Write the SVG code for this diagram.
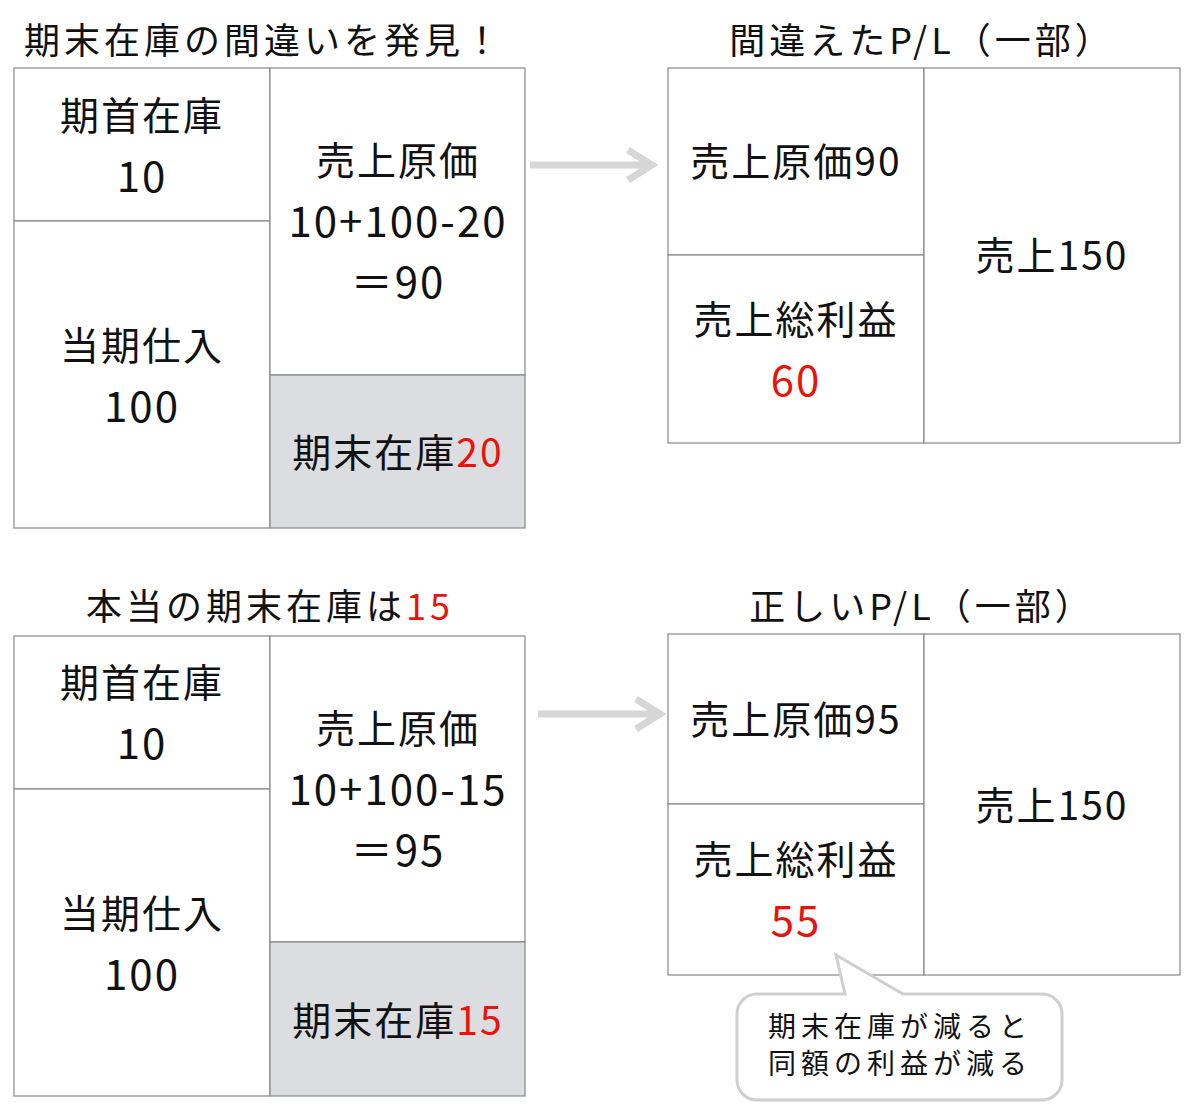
<svg xmlns="http://www.w3.org/2000/svg" width="1200" height="1114" viewBox="0 0 1200 1114">
<style>
text{font-family:"Noto Sans CJK JP","Noto Sans",sans-serif;fill:#111;text-anchor:middle}
.b{fill:#fff;stroke:#888;stroke-width:1.2}
.g{fill:#dcdde0;stroke:#888;stroke-width:1.2}
.t{font-size:39px;letter-spacing:2px}
.n{font-size:42px;letter-spacing:2px}
.h{font-size:36px;letter-spacing:4px}
.r{fill:#e8140c}
.ar{fill:none;stroke:#d6d6d6;stroke-width:7}
</style>
<rect width="1200" height="1114" fill="#fff"/>
<g id="title1"><text class="h" x="264" y="54">期末在庫の間違いを発見！</text></g>
<g id="title2"><text class="h" x="922" y="54">間違えたP/L（一部）</text></g>
<g id="title3"><text class="h" x="270" y="620">本当の期末在庫は<tspan class="r">15</tspan></text></g>
<g id="title4"><text class="h" x="922" y="620">正しいP/L（一部）</text></g>

<g id="box1">
<rect class="b" x="14" y="68" width="256" height="153"/>
<rect class="b" x="14" y="221" width="256" height="307"/>
<rect class="b" x="270" y="68" width="255" height="307"/>
<rect class="g" x="270" y="375" width="255" height="153"/>
<text class="t" x="142" y="130">期首在庫</text><text class="n" x="142" y="192">10</text>
<text class="t" x="142" y="360">当期仕入</text><text class="n" x="142" y="422">100</text>
<text class="t" x="398" y="175">売上原価</text><text class="n" x="398" y="237">10+100-20</text><text class="n" x="398" y="298">＝90</text>
<text class="t" x="398" y="467">期末在庫<tspan class="r">20</tspan></text>
</g>
<g id="pl1">
<rect class="b" x="668" y="68" width="256" height="187"/>
<rect class="b" x="668" y="255" width="256" height="188"/>
<rect class="b" x="924" y="68" width="256" height="375"/>
<text class="t" x="796" y="176">売上原価90</text>
<text class="t" x="796" y="334">売上総利益</text><text class="n r" x="796" y="396">60</text>
<text class="t" x="1052" y="270">売上150</text>
</g>
<g id="box2">
<rect class="b" x="14" y="636" width="256" height="153"/>
<rect class="b" x="14" y="789" width="256" height="307"/>
<rect class="b" x="270" y="636" width="255" height="306"/>
<rect class="g" x="270" y="942" width="255" height="154"/>
<text class="t" x="142" y="697">期首在庫</text><text class="n" x="142" y="759">10</text>
<text class="t" x="142" y="928">当期仕入</text><text class="n" x="142" y="990">100</text>
<text class="t" x="398" y="743">売上原価</text><text class="n" x="398" y="805">10+100-15</text><text class="n" x="398" y="866">＝95</text>
<text class="t" x="398" y="1035">期末在庫<tspan class="r">15</tspan></text>
</g>
<g id="pl2">
<rect class="b" x="668" y="634" width="256" height="170"/>
<rect class="b" x="668" y="804" width="256" height="171"/>
<rect class="b" x="924" y="634" width="256" height="341"/>
<text class="t" x="796" y="734">売上原価95</text>
<text class="t" x="796" y="874">売上総利益</text><text class="n r" x="796" y="936">55</text>
<text class="t" x="1052" y="820">売上150</text>
</g>
<g id="connectors">
<path class="ar" d="M530 165H652M628 150L652 165L628 180"/>
<path class="ar" d="M538 714H660M636 699L660 714L636 729"/>
</g>
<g id="callout">
<path d="M757 994H845L836 955L903 994H1042A20 20 0 0 1 1062 1014V1080A20 20 0 0 1 1042 1100H757A20 20 0 0 1 737 1080V1014A20 20 0 0 1 757 994Z" fill="#fff" stroke="#cfcfcf" stroke-width="3"/>
<text x="900" y="1037" font-size="28" letter-spacing="5">期末在庫が減ると</text>
<text x="900" y="1074" font-size="28" letter-spacing="5">同額の利益が減る</text>
</g>
</svg>
